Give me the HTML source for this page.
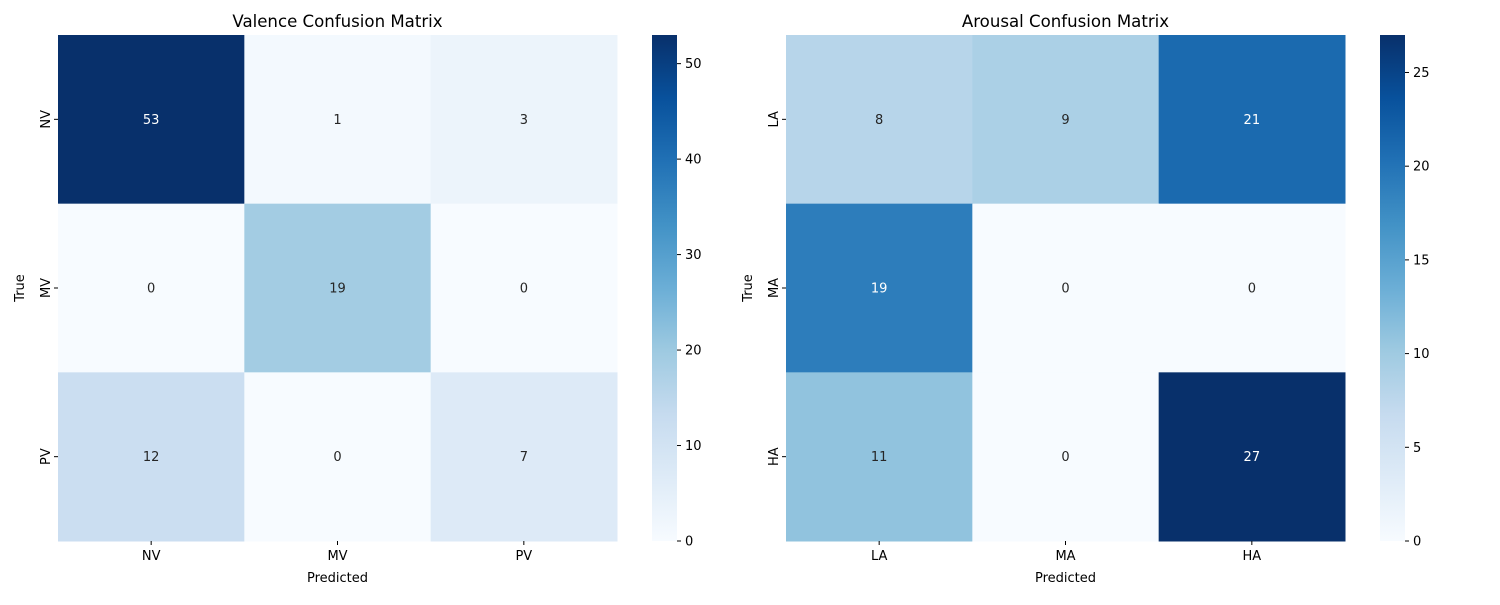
<!DOCTYPE html>
<html><head><meta charset="utf-8"><style>
body{margin:0;background:#fff;width:1500px;height:600px;overflow:hidden}
text{font-family:"DejaVu Sans","Liberation Sans",sans-serif;}
</style></head><body>
<svg id="svg" width="1500" height="600" xmlns="http://www.w3.org/2000/svg">
<defs>
<linearGradient id="blues" x1="0" y1="1" x2="0" y2="0">
<stop offset="0" stop-color="#f7fbff"/><stop offset="0.125" stop-color="#deebf7"/><stop offset="0.25" stop-color="#c6dbef"/><stop offset="0.375" stop-color="#9ecae1"/><stop offset="0.5" stop-color="#6baed6"/><stop offset="0.625" stop-color="#4292c6"/><stop offset="0.75" stop-color="#2171b5"/><stop offset="0.875" stop-color="#08519c"/><stop offset="1" stop-color="#08306b"/>
</linearGradient>
</defs>
</svg>
<script>
const valenceLabels = ["NV","MV","PV"];
const valenceValues = [[53,1,3],[0,19,0],[12,0,7]];
const valenceTicks = [0,10,20,30,40,50];
const arousalLabels = ["LA","MA","HA"];
const arousalValues = [[8,9,21],[19,0,0],[11,0,27]];
const arousalTicks = [0,5,10,15,20,25];

const NS="http://www.w3.org/2000/svg";
const svg=document.getElementById('svg');
const stops=["#f7fbff","#deebf7","#c6dbef","#9ecae1","#6baed6","#4292c6","#2171b5","#08519c","#08306b"].map(h=>[1,3,5].map(i=>parseInt(h.substr(i,2),16)));
function blues(t){t=Math.max(0,Math.min(1,t))*8;const i=Math.min(7,Math.floor(t)),f=t-i;return stops[i].map((c,k)=>Math.round(c+(stops[i+1][k]-c)*f));}
function el(tag,attrs,parent){const e=document.createElementNS(NS,tag);for(const k in attrs)e.setAttribute(k,attrs[k]);(parent||svg).appendChild(e);return e;}
function txt(s,attrs,parent){const e=el('text',attrs,parent);e.textContent=s;return e;}

function heatmap(prefix,title,labels,values,ticks,x0,cbx){
  const g=el('g',{});
  
  
  const y0=35,W=559,H=506,n=labels.length,cw=W/n,ch=H/n;
  const vmax=Math.max(...values.flat()),vmin=Math.min(...values.flat());
  const sx=j=>x0+j*cw, sy=i=>y0+i*ch;
  for(let i=0;i<n;i++)for(let j=0;j<n;j++){
    const v=values[i][j],c=blues((v-vmin)/(vmax-vmin));
    const r=el('rect',{x:sx(j),y:sy(i),width:cw+0.5,height:ch+0.5,fill:`rgb(${c})`},g);
    
    
    const lum=(0.2126*c[0]+0.7152*c[1]+0.0722*c[2])/255;
    const t=txt(String(v),{x:sx(j)+cw/2,y:sy(i)+ch/2+4.5,'text-anchor':'middle','font-size':13,fill:lum<0.45?'#fff':'#262626'},g);
    
    
  }
  for(let j=0;j<n;j++){
    el('line',{x1:sx(j)+cw/2,x2:sx(j)+cw/2,y1:y0+H,y2:y0+H+4,stroke:'#000'},g);
    const t=txt(labels[j],{x:sx(j)+cw/2,y:y0+H+19,'text-anchor':'middle','font-size':13,fill:'#000'},g);
    
    
    el('line',{x1:x0-4,x2:x0,y1:sy(j)+ch/2,y2:sy(j)+ch/2,stroke:'#000'},g);
    const yl=txt(labels[j],{x:0,y:0,'text-anchor':'middle','font-size':13,fill:'#000',transform:`translate(${x0-8},${sy(j)+ch/2}) rotate(-90)`},g);
    
    
  }
  const tt=txt(title,{x:x0+W/2,y:27,'text-anchor':'middle','font-size':16.6,fill:'#000'},g);
  
  
  const xt=txt('Predicted',{x:x0+W/2,y:582,'text-anchor':'middle','font-size':13,fill:'#000'},g);
  
  
  const yt=txt('True',{x:0,y:0,'text-anchor':'middle','font-size':13,fill:'#000',transform:`translate(${x0-34},${y0+H/2}) rotate(-90)`},g);
  
  
  const cb=el('rect',{x:cbx,y:y0,width:25,height:H,fill:'url(#blues)'},g);
  
  
  ticks.forEach(tv=>{
    const y=y0+H-(tv-vmin)/(vmax-vmin)*H;
    el('line',{x1:cbx+25,x2:cbx+29,y1:y,y2:y,stroke:'#000'},g);
    const l=txt(String(tv),{x:cbx+33,y:y+4.5,'font-size':13,fill:'#000'},g);
    
    
  });
}
heatmap('valence','Valence Confusion Matrix',valenceLabels,valenceValues,valenceTicks,58,652);
heatmap('arousal','Arousal Confusion Matrix',arousalLabels,arousalValues,arousalTicks,786,1380);
</script>
</body></html>
